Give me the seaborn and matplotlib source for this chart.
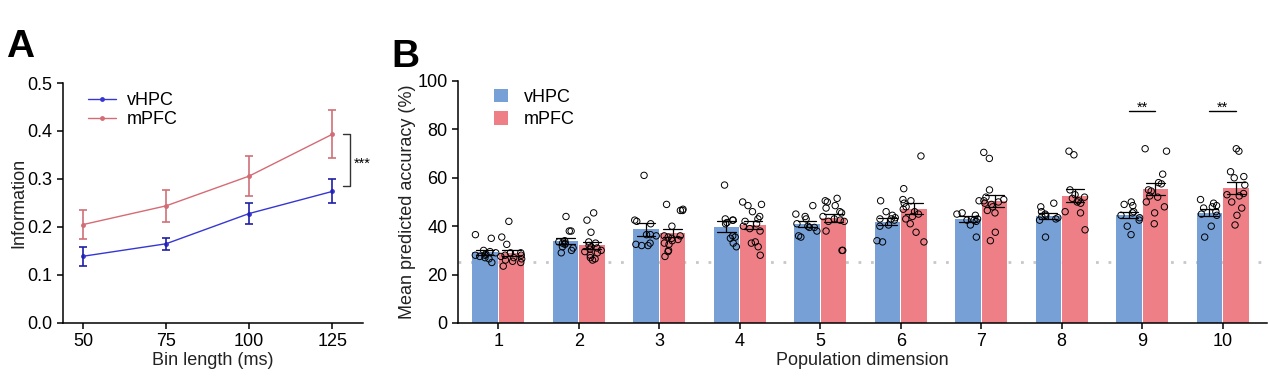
import numpy as np
import pandas as pd
import matplotlib
matplotlib.use("Agg")
import matplotlib.pyplot as plt
import seaborn as sns

# ---- panel A: information vs bin length (mean, sem)
bin_len = [50, 75, 100, 125]
vhpc_info = [0.139, 0.165, 0.228, 0.274]
vhpc_info_sem = [0.020, 0.013, 0.021, 0.025]
mpfc_info = [0.205, 0.244, 0.306, 0.393]
mpfc_info_sem = [0.031, 0.034, 0.042, 0.050]

# ---- panel B: decoding accuracy per population dimension (per-animal points)
dims = [1, 2, 3, 4, 5, 6, 7, 8, 9, 10]
vhpc_acc = [
    [36.5, 35, 30, 29.5, 29, 28.5, 28, 28, 27.5, 27, 26.5, 25],
    [44, 38, 38, 34, 33.5, 33, 33, 32.5, 31.5, 31, 30, 29],
    [61, 42.5, 42, 41, 36.5, 36.5, 36, 33, 32.5, 32, 32],
    [57, 43, 42.5, 42.5, 41.5, 41, 36, 35.5, 35, 33, 31.5],
    [48.5, 45, 44, 43, 41, 40, 39.5, 39.5, 38, 36, 35.5],
    [50.5, 46, 44.5, 43.5, 43, 43, 42.5, 40.5, 40, 34, 33.5],
    [50.5, 45.5, 45, 44.5, 43, 42.5, 42.5, 42, 40.5, 35.5],
    [49.5, 48, 46, 45, 44.5, 44, 43.5, 43, 42.5, 35.5],
    [50, 49, 48.5, 46, 45.5, 44.5, 43.5, 42.5, 40, 36.5],
    [51, 49.5, 48.5, 48, 47.5, 46, 45, 44.5, 40, 35.5],
]
mpfc_acc = [
    [42, 35.5, 32.5, 29, 28, 29, 28, 27.5, 27, 26.5, 26, 25.5, 25, 23.5],
    [45.5, 42.5, 37.5, 33.5, 33, 32, 31.5, 31, 30.5, 30, 29.5, 29, 28, 27, 26.5, 26],
    [49, 47, 46.5, 46.5, 40, 36, 36, 35.5, 35, 34.5, 34, 33, 32.5, 30, 29.5, 27.5],
    [50, 49, 48.5, 46, 44, 43, 42, 41, 40, 39, 38, 33, 33.5, 31.5, 28],
    [51.5, 50.5, 50, 48.5, 47.5, 46, 45.5, 44, 43, 42.5, 42, 42, 38, 30, 30],
    [69, 55.5, 51, 50.5, 49.5, 48, 47, 46, 45, 44, 43, 41, 37.5, 33.5],
    [70.5, 68, 55, 52, 51, 50.5, 50, 49.5, 49, 48, 46.5, 45.5, 37.5, 34],
    [71, 69.5, 55, 53, 52, 51.5, 50.5, 50, 49.5, 46, 45.5, 38.5],
    [72, 71, 61.5, 58, 57.5, 55, 54.5, 52.5, 52, 50, 48, 45.5, 41],
    [72, 71, 62.5, 60.5, 60, 57, 53.5, 53, 52.5, 50, 47.5, 44.5, 40.5],
]
chance = 25
sig_dims = [9, 10]

regions = ["vHPC", "mPFC"]
line_colors = {"vHPC": "#3636d4", "mPFC": "#d56b74"}
err_colors = {"vHPC": "#1f1fa6", "mPFC": "#cf6f78"}
bar_colors = {"vHPC": "#76a0d6", "mPFC": "#ef7f86"}

FS = 13

sns.set_style("ticks")
plt.rcParams["font.family"] = ["Liberation Sans", "DejaVu Sans"]
plt.rcParams["axes.linewidth"] = 1.1
plt.rcParams["axes.edgecolor"] = "black"
plt.rcParams["xtick.color"] = "black"
plt.rcParams["ytick.color"] = "black"
plt.rcParams["text.color"] = "black"
plt.rcParams["xtick.major.width"] = 1.1
plt.rcParams["ytick.major.width"] = 1.1
plt.rcParams["xtick.major.size"] = 4
plt.rcParams["ytick.major.size"] = 4

fig = plt.figure(figsize=(12.68, 3.79), dpi=100)
axA = fig.add_axes([0.0497, 0.1478, 0.2366, 0.6332])
axB = fig.add_axes([0.3612, 0.1478, 0.6380, 0.6385])

# ---------------- panel A
rows = []
for region, m, s in [("vHPC", vhpc_info, vhpc_info_sem), ("mPFC", mpfc_info, mpfc_info_sem)]:
    for b, mv, sv in zip(bin_len, m, s):
        rows.append({"bin": b, "info": mv, "sem": sv, "region": region})
dfA = pd.DataFrame(rows)

sns.lineplot(data=dfA, x="bin", y="info", hue="region", hue_order=regions,
             palette=line_colors, marker="o", markersize=3.5, markeredgewidth=0,
             linewidth=1, errorbar=None, legend=False, ax=axA)
for region in regions:
    sub = dfA[dfA.region == region]
    axA.errorbar(sub["bin"], sub["info"], yerr=sub["sem"], fmt="none",
                 ecolor=err_colors[region], elinewidth=1.2, capsize=3, capthick=1.2)

axA.set_xlim(44, 134.3)
axA.set_ylim(0, 0.5)
axA.set_xticks(bin_len)
axA.set_yticks(np.arange(0, 0.51, 0.1))
axA.set_yticklabels([f"{v:.1f}" for v in np.arange(0, 0.51, 0.1)])
axA.tick_params(labelsize=FS)
axA.set_xlabel("Bin length (ms)", fontsize=FS, color="#222222", labelpad=1)
axA.set_ylabel("Information", fontsize=FS, color="#222222", labelpad=0)
axA.legend(handles=axA.lines[:2], labels=regions, loc="upper left",
           bbox_to_anchor=(0.03, 1.03), frameon=False, fontsize=FS,
           handlelength=1.55, handletextpad=0.6, labelspacing=0.1)

# significance bracket
top = mpfc_info[-1]
bot = vhpc_info[-1] + 0.011
axA.plot([128.3, 130.4, 130.4, 128.3], [top, top, bot, bot], color="#333333",
         lw=1, clip_on=False)
axA.text(131.6, (top + bot) / 2 - 0.016, "***", fontsize=10.5, ha="left",
         va="baseline")
sns.despine(ax=axA)

# ---------------- panel B
rows = []
for d, va, vm in zip(dims, vhpc_acc, mpfc_acc):
    for v in va:
        rows.append({"dim": d, "acc": v, "region": "vHPC"})
    for v in vm:
        rows.append({"dim": d, "acc": v, "region": "mPFC"})
dfB = pd.DataFrame(rows)

axB.axhline(chance, color="#c8c8c8", lw=2, ls=(0, (1, 3.5)), zorder=0.5)
sns.barplot(data=dfB, x="dim", y="acc", hue="region", hue_order=regions,
            palette=bar_colors, errorbar="se", capsize=0.45, width=0.66, gap=0.04,
            err_kws={"color": "black", "linewidth": 0.9}, linewidth=0,
            saturation=1, ax=axB)
n_before = len(axB.collections)
np.random.seed(7)
sns.stripplot(data=dfB, x="dim", y="acc", hue="region", hue_order=regions,
              palette=bar_colors, dodge=True, jitter=0.28, size=4.6,
              linewidth=0.7, edgecolor="black", legend=False, ax=axB)
for coll in axB.collections[n_before:]:
    coll.set_facecolor("none")
    coll.set_edgecolor("black")
    offs = coll.get_offsets()
    if len(offs) == 0:
        continue
    d = offs[:, 0].mean() - np.round(offs[:, 0].mean())
    offs[:, 0] = offs[:, 0] - np.sign(d) * 0.035
    coll.set_offsets(offs)

for d in sig_dims:
    i = dims.index(d)
    axB.plot([i - 0.165, i + 0.165], [87.6, 87.6], color="black", lw=1)
    axB.text(i, 87.2, "**", ha="center", va="baseline", fontsize=10.5)

axB.set_xlim(-0.5, 9.55)
axB.set_ylim(0, 100)
axB.set_yticks(range(0, 101, 20))
axB.tick_params(labelsize=FS)
axB.set_xlabel("Population dimension", fontsize=FS, color="#222222", labelpad=1)
axB.set_ylabel("Mean predicted accuracy (%)", fontsize=FS, color="#222222", labelpad=1)
handles, labels = axB.get_legend_handles_labels()
axB.legend(handles[:2], labels[:2], loc="upper left", bbox_to_anchor=(0.025, 1.035),
           frameon=False, fontsize=FS, handlelength=0.75, handleheight=0.75,
           handletextpad=0.9, labelspacing=0.3)
sns.despine(ax=axB)

fig.text(0.005, 0.85, "A", fontsize=28, fontweight="bold")
fig.text(0.309, 0.823, "B", fontsize=28, fontweight="bold")

fig.savefig("out.png", dpi=100)
